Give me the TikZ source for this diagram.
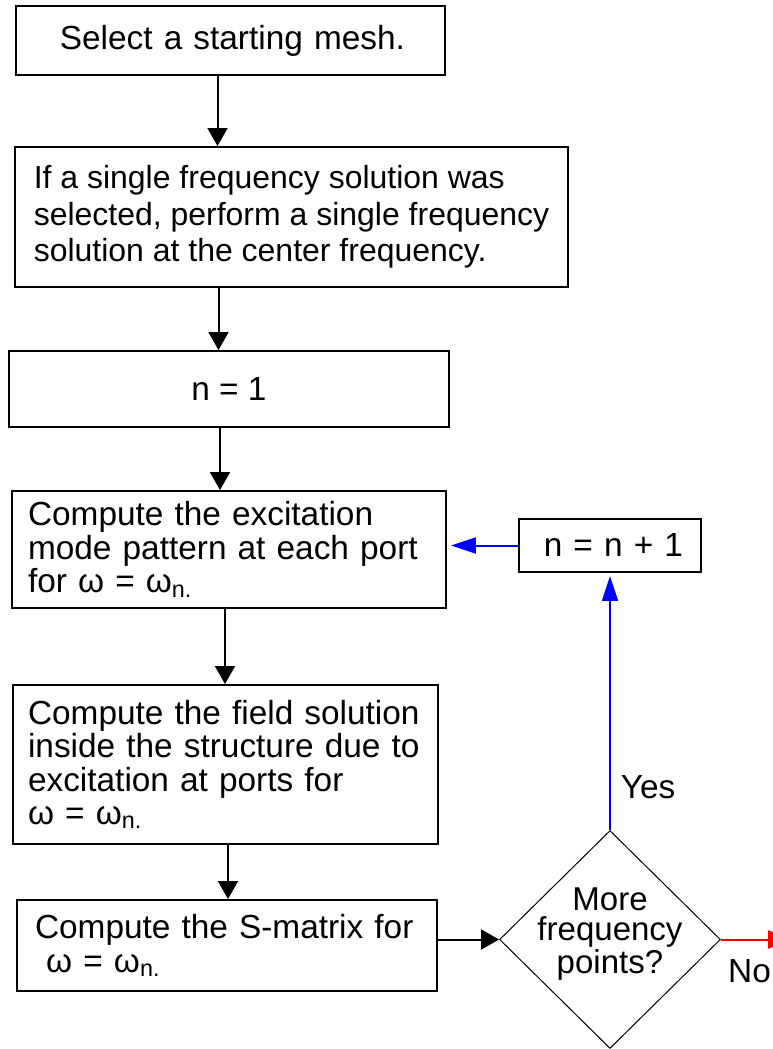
\documentclass[tikz,border=0pt]{standalone}
\usepackage{fontspec}
\setmainfont{Liberation Sans}
\usetikzlibrary{shapes.geometric,arrows.meta}

\newcommand{\boxfont}{\fontsize{19}{19}\selectfont}
\newcommand{\widefont}{\fontsize{18.2}{20.8}\selectfont}
\newcommand{\tightfont}{\fontsize{18.8}{17}\selectfont}
\newcommand{\wn}{ω = ω\textsubscript{n.}}

\tikzset{
  stepbox/.style={draw, line width=0.04cm, align=left, inner sep=0pt},
  decision/.style={draw, diamond, line width=0.02cm, inner sep=0pt},
  flow/.style={line width=0.04cm, -{Triangle[length=0.36cm,width=0.4cm]}},
  backflow/.style={blue, line width=0.035cm, -{Triangle[length=0.5cm,width=0.32cm]}},
}

\begin{document}
\begin{tikzpicture}[x=0.02cm, y=-0.02cm, every node/.style={font=\boxfont}]
    \useasboundingbox (0,0) rectangle (773,1049);

    % Main column of steps
    \node[stepbox, align=right, text width=6.98cm, minimum width=8.58cm, minimum height=1.38cm] (start) at (230.5,40.5)
        {Select a starting mesh.};
    \node[stepbox, minimum width=11.06cm, minimum height=2.8cm, font=\widefont] (single) at (291.5,217)
        {If a single frequency solution was\\selected, perform a single frequency\\solution at the center frequency.};
    \node[stepbox, minimum width=8.82cm, minimum height=1.52cm] (ninit) at (229,389) {n = 1};
    \node[stepbox, text width=8.04cm, minimum width=8.68cm, minimum height=2.34cm] (excite) at (229,549.5)
        {Compute the excitation\\mode pattern at each port\\for \wn};
    \node[stepbox, text width=7.9cm, minimum width=8.5cm, minimum height=3.18cm] (field) at (225.5,764.5)
        {Compute the field solution\\inside the structure due to\\excitation at ports for\\\wn};
    \node[stepbox, text width=7.68cm, minimum width=8.4cm, minimum height=1.82cm] (smatrix) at (227,945.5)
        {Compute the S-matrix for\\\ \wn};

    % Loop back
    \node[stepbox, align=right, text width=2.92cm, minimum width=3.64cm, minimum height=1.06cm] (incr) at (610,545.5)
        {n = n + 1};
    \node[decision, minimum width=4.42cm, minimum height=4.36cm] (more) at (610,939.5) {};
    \node[align=center, font=\tightfont, yshift=0.11cm] (moretext) at (more) {More\\frequency\\points?};
    \node (yes) at (648,787) {Yes};
    \node (no) at (749.5,971) {No};
    \coordinate (noend) at (793,939.5);

    % Connectors
    \draw[flow] (start.south) ++(-13,0) coordinate (a1) -- (a1 |- single.north);
    \draw[flow] (single.south) ++(-73,0) coordinate (a2) -- (a2 |- ninit.north);
    \draw[flow] (ninit.south) ++(-9,0) coordinate (a3) -- (a3 |- excite.north);
    \draw[flow] (excite.south) ++(-4,0) coordinate (a4) -- (a4 |- field.north);
    \draw[flow] (field.south) ++(2.5,0) coordinate (a5) -- (a5 |- smatrix.north);
    \draw[flow] (smatrix.east |- more.west) -- (more.west);
    \draw[backflow, shorten >=0.06cm] (more.north) -- (incr.south);
    \draw[backflow, line width=0.04cm, shorten >=0.08cm] (incr.west) -- (excite.east |- incr.west);
    \draw[red, line width=0.04cm, -{Triangle[length=0.5cm,width=0.36cm]}] (more.east) -- (noend);
\end{tikzpicture}
\end{document}
